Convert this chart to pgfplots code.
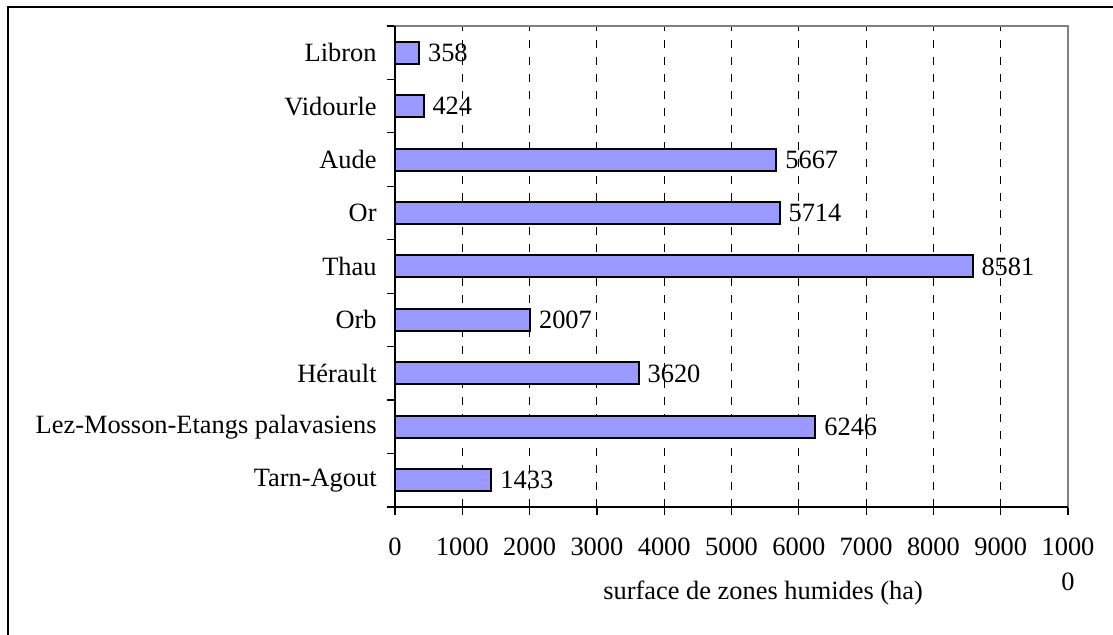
\documentclass[border=0pt]{standalone}
\usepackage{fontspec}
\setmainfont{Liberation Serif}
\usepackage{pgfplots}
\pgfplotsset{compat=1.18}
\definecolor{barblue}{RGB}{153,153,255}
\definecolor{spinegray}{RGB}{128,128,128}
\begin{document}
\begin{tikzpicture}[font=\fontsize{13.2}{15.8}\selectfont]
\path[use as bounding box] (0,0) rectangle (556.5pt,-317.5pt);
\draw[line width=1pt] (4pt,-320pt) -- (4pt,-3.5pt) -- (560pt,-3.5pt);
\begin{axis}[
  at={(197.5pt,-13pt)}, anchor=north west,
  scale only axis, width=336.5pt, height=240.5pt,
  xbar, bar width=11pt,
  xmin=0, xmax=10000, ymin=0.5, ymax=9.5,
  scaled x ticks=false,
  xtick={0,1000,...,10000},
  xticklabels={0,1000,2000,3000,4000,5000,6000,7000,8000,9000,{1000\\[1.5pt]0}},
  xticklabel style={align=center, inner sep=0pt, anchor=north, yshift=-11.5pt},
  ytick={1,...,9},
  yticklabels={Tarn-Agout, Lez-Mosson-Etangs palavasiens, Hérault, Orb, Thau, Or, Aude, Vidourle, Libron},
  yticklabel style={anchor=east, inner sep=0pt, xshift=-5pt},
  minor ytick={0.5,1.5,...,9.5},
  every major y tick/.append style={draw=none},
  tick align=outside,
  xtick pos=left, ytick pos=left,
  major tick length=4pt, minor tick length=4pt,
  tick style={black, line width=0.6pt},
  xmajorgrids,
  major grid style={black, dash pattern=on 4pt off 4.5pt, line width=0.5pt},
  axis line style={draw=spinegray, line width=1pt},
  /pgf/number format/1000 sep={},
  /pgf/number format/assume math mode=true,
  nodes near coords,
  nodes near coords style={anchor=west, inner sep=0pt, xshift=4pt, black},
  xlabel={surface de zones humides (ha)},
  xlabel style={at={(axis description cs:0.547,-0.179)}, anchor=center, inner sep=0pt},
  after end axis/.code={
    \draw[black, line width=0.8pt] (rel axis cs:0,1) -- (rel axis cs:0,0) -- (rel axis cs:1,0);
  },
]
\addplot[fill=barblue, draw=black, line width=1pt] coordinates {
  (1433,1) (6246,2) (3620,3) (2007,4) (8581,5) (5714,6) (5667,7) (424,8) (358,9)
};
\end{axis}
\end{tikzpicture}
\end{document}
